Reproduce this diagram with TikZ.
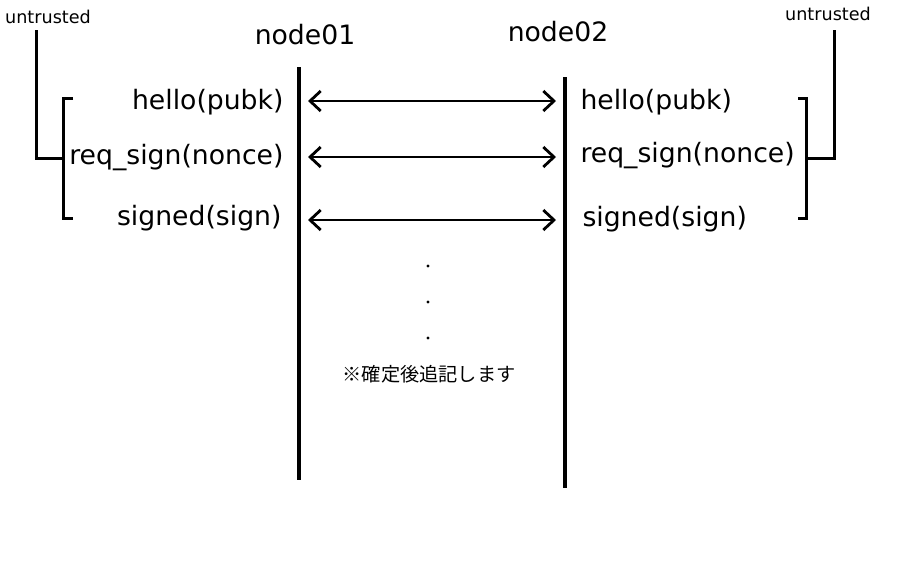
\documentclass[tikz,border=0pt]{standalone}
\usepackage{fontspec}
\setmainfont{DejaVu Sans}
\newfontfamily\jpfont{Noto Sans CJK JP}
\usetikzlibrary{arrows.meta}

\tikzset{every picture/.style={line width=2.25pt}}
\tikzset{
  msg/.style={{Straight Barb[length=8pt,width=15pt]}-{Straight Barb[length=8pt,width=15pt]}, line width=2.1pt},
  lifeline/.style={line width=2.5pt},
  bracket/.style={line width=2.25pt},
  lbl/.style={inner sep=0.75pt, font=\fontsize{20}{24}\selectfont},
  tag/.style={inner sep=0.75pt, font=\fontsize{13.2}{15}\selectfont}
}

\begin{document}
\begin{tikzpicture}[x=0.75pt,y=0.75pt,yscale=-1,xscale=1]
			\useasboundingbox (0,0) rectangle (914,587);

			% Text Node
			\node (n1) at (305,35) [lbl] {node01};
			% Text Node
			\node (n2) at (558,32) [lbl] {node02};

			%Shape: Lifelines
			\coordinate (n1top) at (299,67);
			\coordinate (n1bot) at (299,480);
			\coordinate (n2top) at (565,77);
			\coordinate (n2bot) at (565,488);
			\draw [lifeline] (n1top) -- (n1bot);
			\draw [lifeline] (n2top) -- (n2bot);

			% Text Node
			\node (l1) at (286,102) [lbl, anchor=east] {hello(pubk)};
			% Text Node
			\node (l2) at (286,158) [lbl, anchor=east] {req\_sign(nonce)};
			% Text Node
			\node (l3) at (284,218) [lbl, anchor=east] {signed(sign)};
			% Text Node
			\node (r1) at (578,102) [lbl, anchor=west] {hello(pubk)};
			% Text Node
			\node (r2) at (578,156) [lbl, anchor=west] {req\_sign(nonce)};
			% Text Node
			\node (r3) at (580,219) [lbl, anchor=west] {signed(sign)};

			%Shape: Arrows
			\coordinate (a1) at (308,101);  \coordinate (b1) at (556,101);
			\coordinate (a2) at (308,157);  \coordinate (b2) at (556,157);
			\coordinate (a3) at (308,220);  \coordinate (b3) at (556,220);
			\draw [msg] (a1) -- (b1);
			\draw [msg] (a2) -- (b2);
			\draw [msg] (a3) -- (b3);

			% Text Node
			\node (u1) at (48,17) [tag] {untrusted};
			% Text Node
			\node (u2) at (828,14) [tag] {untrusted};

			%Shape: Left bracket
			\draw [bracket] (73,98) -- (63,98) -- (63,218) -- (73,218);
			\draw [bracket] (63,158) -- (36,158) -- (36,30);
			%Shape: Right bracket
			\draw [bracket] (798,98) -- (806,98) -- (806,218) -- (798,218);
			\draw [bracket] (806,158) -- (834,158) -- (834,30);

			%Shape: Dots
			\fill (428,266) circle (1.6);
			\fill (428,302) circle (1.6);
			\fill (428,338) circle (1.6);

			% Text Node
			\node (note) at (429,374) [inner sep=0.75pt, font=\jpfont\fontsize{14.4}{16}\selectfont] {※確定後追記します};

		\end{tikzpicture}
\end{document}
